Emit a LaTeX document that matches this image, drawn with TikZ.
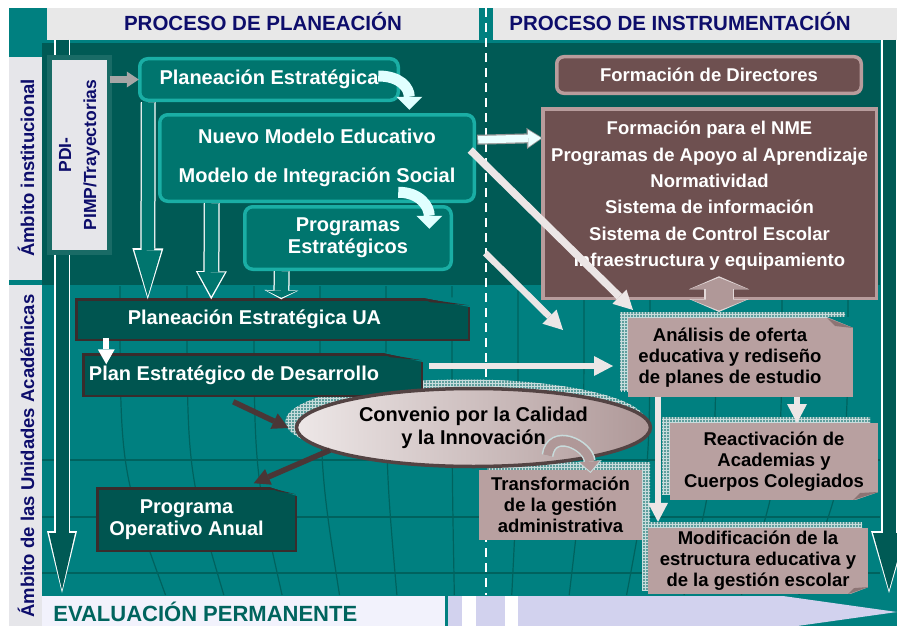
\documentclass[tikz,border=0pt]{standalone}
\usepackage{fontspec}
\setmainfont{Liberation Sans}
\usetikzlibrary{arrows.meta,calc,patterns,shapes.geometric}

\definecolor{basecol}{HTML}{008080}
\definecolor{darkcol}{HTML}{005A55}
\definecolor{boxcol}{HTML}{00756E}
\definecolor{rimcol}{HTML}{1AAEA5}
\definecolor{uacol}{HTML}{005550}
\definecolor{uarimcol}{HTML}{3A2C2C}
\definecolor{browncol}{HTML}{6E5050}
\definecolor{pinkrimcol}{HTML}{B89C9C}
\definecolor{pinkcol}{HTML}{B8A0A0}
\definecolor{foldcol}{HTML}{8C7474}
\definecolor{navycol}{HTML}{0D0D6B}
\definecolor{headcol}{HTML}{E8E8E8}
\definecolor{labelcol}{HTML}{E6E6EA}
\definecolor{palecol}{HTML}{ECE6E6}
\definecolor{cyancol}{HTML}{E0FFFF}
\definecolor{darkarrowcol}{HTML}{4A3636}
\definecolor{mauvecol}{HTML}{B09898}
\definecolor{evalbgcol}{HTML}{F2F2FC}
\definecolor{evallavcol}{HTML}{D2D2EE}
\definecolor{evaltextcol}{HTML}{00645E}
\definecolor{gridcol}{HTML}{00625E}
\definecolor{shadecol}{HTML}{5E9E9C}
\definecolor{meshcol}{HTML}{C8DCDC}

\begin{document}
\begin{tikzpicture}[x=1pt, y=-1pt,
    every node/.style={outer sep=0pt},
    titletext/.style={text=navycol, font=\fontsize{20.5}{24}\selectfont\bfseries},
    sidetext/.style={rotate=90, text=navycol, font=\fontsize{18.5}{21}\selectfont\bfseries},
    tealbox/.style={rectangle, rounded corners=8pt, fill=boxcol, draw=rimcol, line width=3.5pt,
        text=white, align=center, font=\fontsize{20}{22}\selectfont\bfseries},
    uabox/.style={rectangle, fill=uacol, draw=uarimcol, line width=2.5pt,
        text=white, align=center, font=\fontsize{20}{22}\selectfont\bfseries},
    brownbox/.style={rectangle, fill=browncol, draw=pinkrimcol, line width=3.5pt,
        text=white, align=center, font=\fontsize{18.5}{26.4}\selectfont\bfseries},
    pinkbox/.style={rectangle, fill=pinkcol, text=black, align=center,
        font=\fontsize{18.5}{21}\selectfont\bfseries},
    texshadow/.style={fill=shadecol, postaction={pattern=grid, pattern color=meshcol}},
    gridline/.style={gridcol, line width=1.2pt},
    palearrow/.style={palecol, line width=6.5pt, -{Triangle[length=19pt,width=20pt,line width=0pt]}},
    darkarrow/.style={darkarrowcol, line width=5.5pt, -{Triangle[length=16pt,width=17pt,line width=0pt]}},
    cyanarrow/.style={cyancol, line width=11pt, -{Triangle[length=13pt,width=26pt,line width=0pt]}}
]
\useasboundingbox (0,0) rectangle (897,626);

% Background and frame
\fill[white] (0,0) rectangle (897,626);
\fill[basecol] (9,8) rectangle (897,626);

% Column headers
\fill[headcol] (47,8) rectangle (479,40);
\fill[headcol] (493,8) rectangle (897,40);
\node[titletext, anchor=base] (plan) at (263,31) {PROCESO DE PLANEACIÓN};
\node[titletext, anchor=base] (instr) at (680,31) {PROCESO DE INSTRUMENTACIÓN};

% Row labels
\fill[labelcol] (9,57) rectangle (42,280);
\fill[labelcol] (9,285) rectangle (42,626);
\node[sidetext] (ambinst) at (26,168) {Ámbito institucional};
\node[sidetext] (ambua) at (26,456) {Ámbito de las Unidades Académicas};

% Institutional zone
\fill[darkcol] (42,43) rectangle (880,285);

% Perspective grid of the academic-unit zone
\foreach \y in {460,517,573}
    \draw[gridline] (42,\y) -- (880,\y);
\foreach \x in {120,187,254,320,386,452,518,584,650,716,782,848}
    \draw[gridline] (\x,286) .. controls (\x,470) .. ({\x+0.13*(470-\x)},595);

% Dashed divider between the two processes
\draw[white, line width=2.5pt, dash pattern=on 9pt off 6pt] (486,8) -- (486,595);

% Evaluation bar
\fill[evalbgcol] (42,596) rectangle (445,626);
\node[anchor=base west, text=evaltextcol, font=\fontsize{22}{24}\selectfont\bfseries] (eval) at (50,621) {EVALUACIÓN PERMANENTE};
\fill[evallavcol] (448,596) rectangle (462,626);
\fill[white] (462,596) rectangle (476,626);
\fill[evallavcol] (476,596) rectangle (505,626);
\fill[white] (505,596) rectangle (518,626);
\fill[evallavcol] (518,596) -- (783,596) -- (897,612) -- (783,628) -- (518,628) -- cycle;

% Long side arrows
\coordinate (leftstart) at (62,40);
\coordinate (leftend) at (62,593);
\coordinate (rightstart) at (889,40);
\coordinate (rightend) at (889,593);
\draw[white, line width=16pt, -{Triangle[length=62pt,width=30pt,line width=0pt]}] (leftstart) -- (leftend);
\draw[darkcol, line width=13pt, shorten >=3pt, -{Triangle[length=57pt,width=26pt,line width=0pt]}] (leftstart) -- (leftend);
\draw[white, line width=16pt, -{Triangle[length=62pt,width=36pt,line width=0pt]}] (rightstart) -- (rightend);
\draw[darkcol, line width=13pt, shorten >=3pt, -{Triangle[length=57pt,width=32pt,line width=0pt]}] (rightstart) -- (rightend);

% Textured shadows
\fill[texshadow] (620,312) rectangle (845,391);
\fill[texshadow] (662,417) rectangle (870,494);
\fill[texshadow] (642,522) rectangle (862,590);
\fill[texshadow] (487,462) rectangle (650,532);
\fill[texshadow] (465.5,421.5) ellipse [x radius=180, y radius=42];

% Planning boxes
\node[rotate=90, fill=labelcol, draw=darkcol!90!white, line width=5pt, minimum width=195, minimum height=60,
    align=center, text=navycol, font=\fontsize{17.5}{25}\selectfont\bfseries] (pdi) at (79.5,155) {PDI-\\PIMP/Trayectorias};
\node[tealbox, minimum width=258.5, minimum height=41.5] (pe) at (269,79.5) {Planeación Estratégica};
\node[tealbox, minimum width=314.5, minimum height=86.5] (nme) at (317,158) {Nuevo Modelo Educativo\\[17pt]Modelo de Integración Social};
\node[tealbox, minimum width=206.5, minimum height=62.5] (prog) at (348,238) {Programas\\Estratégicos};

\node[uabox, minimum width=392.5, minimum height=40.5] (peua) at (272.5,319.5) {\hspace*{-36pt}Planeación Estratégica UA};
\node[uabox, minimum width=338.5, minimum height=41.5] (pled) at (252.5,375) {\hspace*{-37pt}Plan Estratégico de Desarrollo};
\node[uabox, minimum width=198.5, minimum height=62.5] (poa) at (196.5,519.5) {\hspace*{-20pt}Programa\\\hspace*{-20pt}Operativo Anual};

% Curled corners of the academic-unit boxes
\foreach \n/\w in {peua/48,pled/41,poa/28}{
    \fill[basecol] ($(\n.north east)+(-\w,-2)$) -- ($(\n.north east)+(2,-2)$) -- ($(\n.north east)+(2,8)$) -- cycle;
    \fill[uarimcol] ($(\n.north east)+(-\w,-1)$) -- ($(\n.north east)+(0,6)$) -- ($(\n.north east)+(-\w+10,3)$) -- cycle;
}

% Agreement
\node[ellipse, minimum width=354, minimum height=78, draw=uarimcol!80!pinkcol, line width=3.5pt,
    left color=pinkcol!25!white, right color=pinkcol!95!black, align=center,
    font=\fontsize{20}{23}\selectfont\bfseries] (conv) at (473.5,427.5) {Convenio por la Calidad\\y la Innovación};

% Instrumentation boxes
\node[brownbox, rounded corners=7pt, minimum width=304.5, minimum height=36.5] (fdir) at (709,75) {Formación de Directores};
\node[brownbox, minimum width=333.5, minimum height=189.5, text depth=19pt] (inst) at (709.5,203.5)
    {Formación para el NME\\Programas de Apoyo al Aprendizaje\\Normatividad\\Sistema de información\\Sistema de Control Escolar\\Infraestructura y equipamiento};
\node[pinkbox, minimum width=225, minimum height=79] (anal) at (740.5,357.5)
    {\hspace*{-21pt}Análisis de oferta\\\hspace*{-21pt}educativa y rediseño\\\hspace*{-21pt}de planes de estudio};
\node[pinkbox, minimum width=208, minimum height=77] (react) at (774,461.5) {Reactivación de\\Academias y\\Cuerpos Colegiados};
\node[pinkbox, minimum width=220, minimum height=66] (modif) at (758,561) {Modificación de la\\estructura educativa y\\de la gestión escolar};
\node[pinkbox, minimum width=163, minimum height=70] (transf) at (560.5,505) {Transformación\\de la gestión\\administrativa};

% Curled corners of the pink boxes
\fill[basecol] ($(anal.north east)+(-26,-1)$) -- ($(anal.north east)+(1,-1)$) -- ($(anal.north east)+(1,10)$) -- cycle;
\fill[foldcol] ($(anal.north east)+(-26,0)$) -- ($(anal.north east)+(0,10)$) -- ($(anal.north east)+(-18,8)$) -- cycle;
\fill[basecol] ($(react.south east)+(-25,1)$) -- ($(react.south east)+(1,1)$) -- ($(react.south east)+(1,-8)$) -- cycle;
\fill[foldcol] ($(react.south east)+(-25,0)$) -- ($(react.south east)+(0,-8)$) -- ($(react.south east)+(-18,-7)$) -- cycle;
\fill[basecol] ($(modif.south east)+(-20,1)$) -- ($(modif.south east)+(1,1)$) -- ($(modif.south east)+(1,-7)$) -- cycle;
\fill[foldcol] ($(modif.south east)+(-20,0)$) -- ($(modif.south east)+(0,-7)$) -- ($(modif.south east)+(-14,-6)$) -- cycle;

% Planning flow
\draw[gray!70, line width=7pt, -{Triangle[length=12pt,width=16pt,line width=0pt]}] (pdi.south |- pe.west) -- ($(pe.west)+(-1,0)$);
\draw[cyanarrow] ($(pe.east)+(-20,-3.5)$) .. controls +(22,0) and +(0,-22) .. ($(nme.north east)+(-65,-5)$);
\draw[cyanarrow] ($(nme.south east)+(-76,-9)$) .. controls +(22,0) and +(0,-22) .. ($(prog.north east)+(-22,22)$);

% Hollow arrows down to the academic units
\draw[white, line width=15pt, -{Triangle[length=51pt,width=31pt,line width=0pt]}] ($(pe.south west)+(8.5,2)$) -- ($(peua.north west)+(71.5,0)$);
\draw[boxcol, line width=12.5pt, shorten >=3pt, -{Triangle[length=46pt,width=27pt,line width=0pt]}] ($(pe.south west)+(8.5,2)$) -- ($(peua.north west)+(71.5,0)$);
\draw[white, line width=16pt, -{Triangle[length=28pt,width=31pt,line width=0pt]}] ($(nme.south west)+(52,2)$) -- ($(peua.north west)+(135,0)$);
\draw[boxcol, line width=13.5pt, shorten >=3pt, -{Triangle[length=24pt,width=27pt,line width=0pt]}] ($(nme.south west)+(52,2)$) -- ($(peua.north west)+(135,0)$);
\draw[white, line width=16pt, -{Triangle[length=9pt,width=34pt,line width=0pt]}] ($(prog.south west)+(37,2)$) -- ($(peua.north west)+(205,0)$);
\draw[boxcol, line width=13.5pt, shorten >=1.5pt, -{Triangle[length=7pt,width=30pt,line width=0pt]}] ($(prog.south west)+(37,2)$) -- ($(peua.north west)+(205,0)$);

% Academic-unit flow
\draw[white, line width=6pt, -{Triangle[length=15pt,width=17pt,line width=0pt]}] ($(peua.south west)+(30,-2)$) -- ($(pled.north west)+(23,10)$);
\draw[darkarrow] ($(pled.south west)+(150,6)$) -- ($(conv.west)+(-8,0.5)$);
\draw[darkarrow] (conv.189) -- ($(poa.north east)+(-42,-5)$);

% Links to the instrumentation side
\draw[gray!80, line width=10pt, -{Triangle[length=16pt,width=21pt,line width=0pt]}] ($(nme.north east)+(3,25)$) -- ($(inst.west)+(0,-65.5)$);
\draw[cyancol!60!white, line width=7.5pt, shorten >=1.5pt, -{Triangle[length=13pt,width=17pt,line width=0pt]}] ($(nme.north east)+(4,25)$) -- ($(inst.west)+(0,-65.5)$);
\draw[palearrow, line width=7.5pt] ($(nme.east)+(-4,-8)$) -- ($(anal.north west)+(5,-8)$);
\coordinate (towardanal) at (563,330);
\draw[palearrow] ($(prog.east)+(34,15)$) -- (towardanal);
\draw[palearrow] ($(pled.east)+(7,-9)$) -- ($(anal.west)+(-15,8.5)$);

% Instrumentation flow
\draw[palecol!80!pinkcol, line width=30pt, {Triangle[length=13pt,width=60pt,line width=0pt]}-{Triangle[length=13pt,width=60pt,line width=0pt]}] ($(inst.south)+(9.5,-22)$) -- ($(anal.north)+(-21.5,-6)$);
\draw[mauvecol, line width=27pt, shorten <=1.5pt, shorten >=1.5pt, {Triangle[length=11pt,width=56pt,line width=0pt]}-{Triangle[length=11pt,width=56pt,line width=0pt]}] ($(inst.south)+(9.5,-22)$) -- ($(anal.north)+(-21.5,-6)$);
\draw[palearrow, line width=6pt] ($(anal.south)+(56.5,0)$) -- ($(react.north)+(23,0)$);
\draw[palearrow, line width=6.5pt] ($(anal.south)+(-82.5,0)$) -- ($(modif.north)+(-100,-6)$);
\draw[meshcol, line width=12pt, -{Triangle[length=12pt,width=24pt,line width=0pt]}] ($(conv.south)+(74,-11)$) .. controls +(4,-28) and +(-2,-28) .. ($(transf.north)+(30,3)$);
\draw[mauvecol, line width=9pt, shorten >=1.5pt, -{Triangle[length=10pt,width=20pt,line width=0pt]}] ($(conv.south)+(74,-11)$) .. controls +(4,-28) and +(-2,-28) .. ($(transf.north)+(30,3)$);
\end{tikzpicture}
\end{document}
